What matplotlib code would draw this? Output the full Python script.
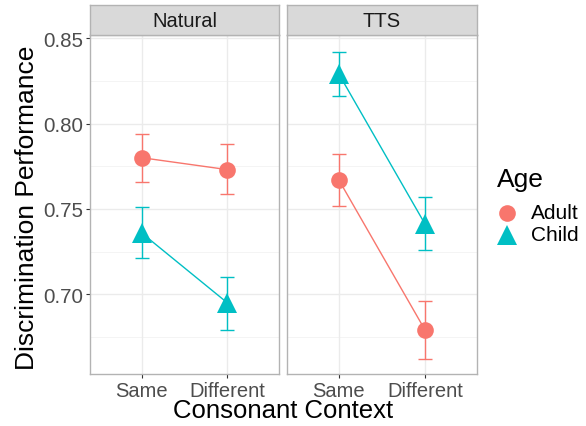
import matplotlib
matplotlib.use("Agg")
import matplotlib.pyplot as plt
from matplotlib.lines import Line2D

plt.rcParams['font.family'] = ['Liberation Sans', 'DejaVu Sans']

contexts = ["Same", "Different"]
panels = ["Natural", "TTS"]
ages = ["Adult", "Child"]

# means and error bar bounds: [panel][context]
adult_mean = {"Natural": [0.780, 0.773], "TTS": [0.767, 0.679]}
adult_lo = {"Natural": [0.766, 0.759], "TTS": [0.752, 0.662]}
adult_hi = {"Natural": [0.794, 0.788], "TTS": [0.782, 0.696]}
child_mean = {"Natural": [0.736, 0.695], "TTS": [0.829, 0.741]}
child_lo = {"Natural": [0.721, 0.679], "TTS": [0.816, 0.726]}
child_hi = {"Natural": [0.751, 0.710], "TTS": [0.842, 0.757]}

colors = {"Adult": "#F8766D", "Child": "#00BFC4"}
markers = {"Adult": "o", "Child": "^"}
msizes = {"Adult": 12, "Child": 15}
yticks = [0.70, 0.75, 0.80, 0.85]
yminor = [0.675, 0.725, 0.775, 0.825]

W, H = 586, 427
fig = plt.figure(figsize=(W / 100, H / 100), dpi=100)

def fx(px):
    return px / W

def fy(py):
    return 1 - py / H

ax_boxes = [(90, 279), (287, 477)]
top_px, bot_px, strip_top = 36, 375, 6
ylim = (0.6534, 0.8518)

data = {"Adult": (adult_mean, adult_lo, adult_hi), "Child": (child_mean, child_lo, child_hi)}

for i, (panel, (x0, x1)) in enumerate(zip(panels, ax_boxes)):
    ax = fig.add_axes([fx(x0), fy(bot_px), fx(x1 - x0), (bot_px - top_px) / H])
    ax.set_xlim(-0.6, 1.6)
    ax.set_ylim(*ylim)
    ax.set_facecolor("white")
    for y in yticks:
        ax.axhline(y, color="#EBEBEB", lw=1.0, zorder=0)
    for y in yminor:
        ax.axhline(y, color="#F2F2F2", lw=0.6, zorder=0)
    for x in range(len(contexts)):
        ax.axvline(x, color="#EBEBEB", lw=1.0, zorder=0)
    xs = list(range(len(contexts)))
    for age in ages:
        m, lo, hi = data[age]
        mv = m[panel]
        yerr = [[mv[k] - lo[panel][k] for k in xs], [hi[panel][k] - mv[k] for k in xs]]
        ax.errorbar(xs, mv, yerr=yerr, fmt="none", ecolor=colors[age], elinewidth=1.0,
                    capsize=5, capthick=1.0, zorder=2)
        ax.plot(xs, mv, color=colors[age], lw=1.0, zorder=3)
        ax.plot(xs, mv, linestyle="none", marker=markers[age], markersize=msizes[age],
                color=colors[age], markeredgewidth=0, zorder=4)
    ax.set_xticks(xs)
    ax.set_xticklabels(contexts, fontsize=14.5, color="#4D4D4D")
    ax.set_yticks(yticks)
    if i == 0:
        ax.set_yticklabels([f"{v:.2f}" for v in yticks], fontsize=14.8, color="#4D4D4D")
        ax.tick_params(axis="y", length=3, width=0.8, color="#333333", pad=2)
    else:
        ax.tick_params(axis="y", length=0, labelleft=False)
    ax.tick_params(axis="x", length=3, width=0.8, color="#333333", pad=2)
    for s in ax.spines.values():
        s.set_color("#B3B3B3")
        s.set_linewidth(1.0)
    # strip
    sax = fig.add_axes([fx(x0), fy(top_px), fx(x1 - x0), (top_px - strip_top) / H])
    sax.set_facecolor("#D9D9D9")
    sax.set_xticks([])
    sax.set_yticks([])
    for s in sax.spines.values():
        s.set_color("#B3B3B3")
        s.set_linewidth(1.0)
    sax.text(0.5, 0.47, panel, ha="center", va="center", fontsize=14.5, color="#1A1A1A",
             transform=sax.transAxes)

fig.text(fx(27), fy((top_px + bot_px) / 2 + 2), "Discrimination Performance", rotation=90,
         ha="center", va="center", fontsize=19, color="black")
fig.text(fx(283), fy(411), "Consonant Context", ha="center", va="center",
         fontsize=18.5, color="black")

# legend (drawn manually)
fig.text(fx(497), fy(180), "Age", ha="left", va="center", fontsize=19, color="black")
for a, ypx in zip(ages, [214, 236]):
    fig.add_artist(Line2D([fx(507)], [fy(ypx)], linestyle="none", marker=markers[a],
                          markersize=msizes[a], color=colors[a], markeredgewidth=0,
                          transform=fig.transFigure))
    fig.text(fx(531), fy(ypx), a, ha="left", va="center", fontsize=15, color="black")

fig.savefig("out.png", dpi=100)
